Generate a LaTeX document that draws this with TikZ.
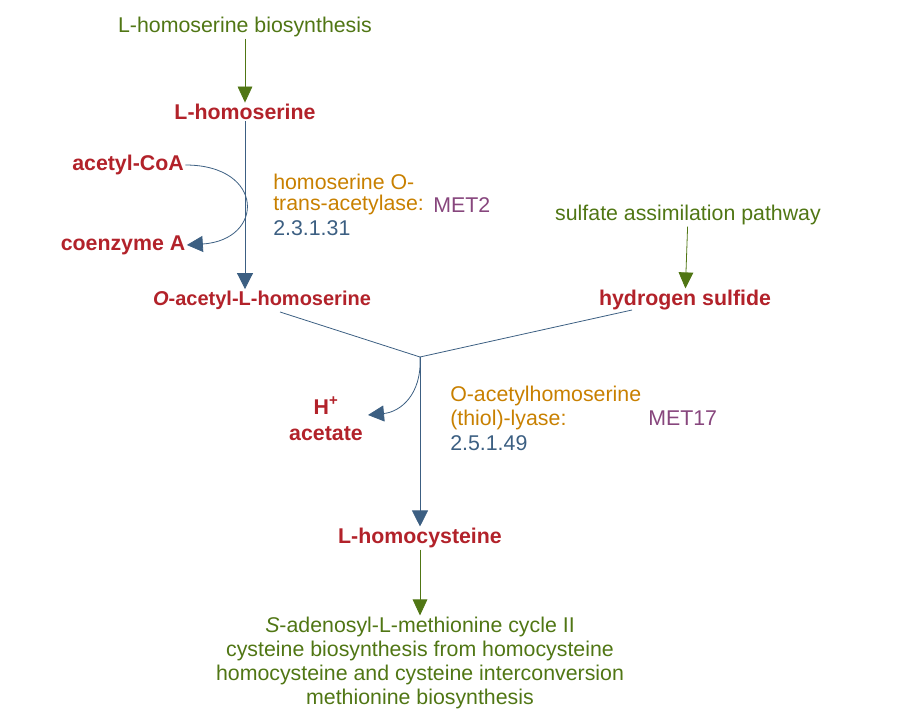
\documentclass[tikz,border=0pt]{standalone}
\usepackage{fontspec}
\setmainfont{Liberation Sans}
\definecolor{pwgreen}{RGB}{80,118,20}
\definecolor{pwred}{RGB}{178,34,42}
\definecolor{pworange}{RGB}{200,128,0}
\definecolor{pwpurple}{RGB}{135,70,125}
\definecolor{pwblue}{RGB}{60,95,130}
\tikzset{
  cpd/.style={font=\fontsize{16}{19}\selectfont\bfseries,text=pwred,inner sep=1pt},
  pwy/.style={font=\fontsize{16}{19}\selectfont,text=pwgreen,inner sep=1pt,align=center},
  enz/.style={font=\fontsize{16}{19}\selectfont,inner sep=0pt,anchor=west},
  rxn/.style={draw=pwblue,line width=0.6pt},
  rxnarr/.style={rxn,-{Triangle[width=12pt,length=12pt]}},
  pwyarr/.style={draw=pwgreen,line width=0.6pt,-{Triangle[width=11pt,length=12pt]}}
}
\usetikzlibrary{arrows.meta}
\begin{document}
\begin{tikzpicture}[x=0.75pt,y=-0.75pt]
\useasboundingbox (0,0) rectangle (910,720);

% pathway links
\node[pwy] (hsbio) at (245,27) {L-homoserine biosynthesis};
\node[pwy] (sulf) at (688,215) {sulfate assimilation pathway};
\node[pwy,font=\fontsize{16}{18}\selectfont] (down) at (420,663) {\textit{S}-adenosyl-L-methionine cycle II\\cysteine biosynthesis from homocysteine\\homocysteine and cysteine interconversion\\methionine biosynthesis};

% compounds
\node[cpd] (hser) at (245,112) {L-homoserine};
\node[cpd] (accoa) at (128,165) {acetyl-CoA};
\node[cpd] (coa) at (123,245) {coenzyme A};
\node[cpd,font=\fontsize{15}{18}\selectfont\bfseries] (oahs) at (262,300) {\textit{O}-acetyl-L-homoserine};
\node[cpd] (hs) at (685,300) {hydrogen sulfide};
\node[cpd,align=center] (hac) at (326,419) {H\textsuperscript{+}\\[1pt]acetate};
\node[cpd] (hcys) at (420,538) {L-homocysteine};

% enzymes
\node[enz,text=pworange] (e1a) at (273,182) {homoserine O-};
\node[enz,text=pworange] (e1b) at (273,205) {trans-acetylase:};
\node[enz,text=pwpurple] (met2) at (433,205) {MET2};
\node[enz,text=pwblue] (ec1) at (273,228) {2.3.1.31};
\node[enz,text=pworange] (e2a) at (450,396) {O-acetylhomoserine};
\node[enz,text=pworange] (e2b) at (450,420) {(thiol)-lyase:};
\node[enz,text=pwpurple] (met17) at (648,418) {MET17};
\node[enz,text=pwblue] (ec2) at (450,443) {2.5.1.49};

\coordinate (mid) at (420,357);

% links
\draw[pwyarr] (hsbio) -- (hser);
\draw[pwyarr] (sulf) -- (hs);
\draw[pwyarr] (hcys) -- (down);
\draw[rxnarr] (hser) -- (oahs.north -| hser);
\draw[rxnarr] (accoa.east) .. controls (265,165) and (265,240) .. (coa.east);
\draw[rxn] (280,312) -- (mid);
\draw[rxn] (632,310) -- (mid);
\draw[rxnarr] (mid) -- (hcys);
\draw[rxnarr] (mid) .. controls (422,395) and (400,412) .. (368,415);
\end{tikzpicture}
\end{document}
